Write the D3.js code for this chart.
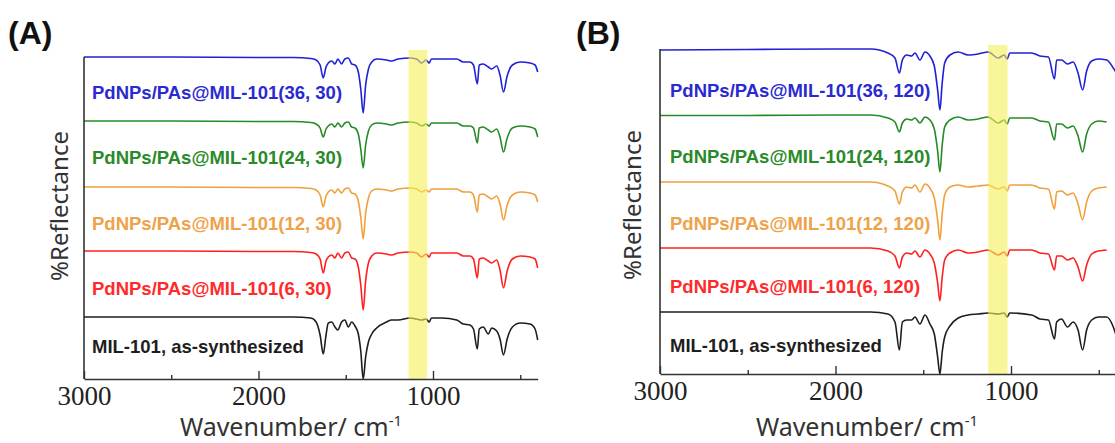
<!DOCTYPE html>
<html>
<head>
<meta charset="utf-8">
<script src="https://cdn.jsdelivr.net/npm/d3@7"></script>
<style>
body { margin: 0; background: #fff; }
</style>
</head>
<body>
<svg id="chart" width="1115" height="443"></svg>
<script>
// wavenumber grid (cm-1) and band depths
var wnA = [3000,2500,2000,1800,1700,1670,1647,1629,1613,1600,1580,1562,1545,1524,1505,1485,1466,1447,1428,1414,1400,1386,1370,1351,1323,1266,1237,1200,1132,1094,1065,1040,1022,1009,950,864,826,788,768,746,735,712,683,664,635,616,596,575,545,500,444,415,400];
var blackA  = [0,0,0,0,1,5,18,37,18,6,5,10,13,5,3,10,5,9,17,34,62,40,25,17,11,5,3,3,1,2,3,2,5,1,1,3,7,8,12,32,12,10,17,11,14,22,38,22,10,6,7,12,23];
var redA    = [0,0,0.5,0.5,1.5,3,8,22,10,6,4,7,2,7,2,1,7,8,16,34,59,30,12,5,2,3,4,2,1,2,6,3,6,2,2,2,5,5,8,27,8,7,10,12,9,19,37,20,8,5,6,8,17];
var orangeA = [0,0,0.5,0.5,1.5,3,8,20,9,5,3,6,2,6,2,1,6,7,14,30,52,26,11,4,2,3,4,2,1,2,5,3,5,2,2,2,5,5,8,25,8,7,10,12,9,17,33,18,8,5,6,8,15];
var greenA  = [0,0,0.5,0.5,1.5,3,7,16,8,5,3,6,2,6,2,1,6,7,13,28,47,24,10,4,2,3,4,2,1,2,5,3,5,2,2,2,5,5,7,22,7,6,9,11,8,16,31,17,7,5,6,8,16];
var blueA   = [0,0,0.5,0.5,1.5,3,8,21,10,6,4,7,2,7,2,1,7,8,15,32,56,28,12,5,2,3,4,2,1,2,6,3,6,2,2,2,5,5,8,27,8,7,10,12,9,18,35,19,8,5,6,8,15];

var wnB = [3000,2500,2000,1800,1701,1661,1636,1619,1594,1566,1547,1519,1490,1462,1437,1418,1405,1392,1378,1348,1301,1244,1187,1130,1073,1039,1022,1007,882,835,787,752,740,712,678,646,618,592,569,540,502,455,417,400];
var blackB  = [0,0,0,0,2,10,38,10,8,8,5,12,3,12,22,45,62,40,25,14,6,3,2,1,2,1,5,1,3,7,8,27,10,7,15,10,18,38,18,8,5,5,15,24];
var redB    = [0,0,0,0,3,8,20,9,5,6,3,9,2,6,15,35,53,29,12,5,2,5,4,2,7,4,8,2,2,5,6,22,8,8,12,10,19,33,17,6,3,2,null,null];
var orangeB = [0,0,0,0,4,9,22,10,5,6,3,10,2,6,16,38,58,32,13,5,3,5,4,3,7,5,9,3,3,6,7,27,10,9,13,11,22,38,20,9,6,5,null,null];
var greenB  = [0.5,0.5,0,0,3,7,17,8,4,5,3,8,2,5,14,36,57,30,12,5,2,5,4,2,8,5,9,3,3,6,7,25,9,9,13,11,21,37,19,9,6,7,null,null];
var blueB   = [1,0.5,0,0,4,9,24,11,6,7,4,11,3,7,17,41,61,34,14,6,3,6,5,3,9,6,10,4,4,7,8,30,11,11,15,13,24,41,22,12,10,11,19,24];

// vertical stacking offsets (bottom to top)
var offsetsA = [0, 66, 130, 196, 260];
var offsetsB = [0, 64, 130, 197, 263];

var labelsA = ["MIL-101, as-synthesized", "PdNPs/PAs@MIL-101(6, 30)", "PdNPs/PAs@MIL-101(12, 30)", "PdNPs/PAs@MIL-101(24, 30)", "PdNPs/PAs@MIL-101(36, 30)"];
var labelsB = ["MIL-101, as-synthesized", "PdNPs/PAs@MIL-101(6, 120)", "PdNPs/PAs@MIL-101(12, 120)", "PdNPs/PAs@MIL-101(24, 120)", "PdNPs/PAs@MIL-101(36, 120)"];

var bandA = [1140, 1033];
var bandB = [1130, 1020];

var majorTicks = [3000, 2000, 1000];
var minorTicks = [2500, 1500, 500];
var xDomain = [3000, 400];

var lineColors  = ["#1e1e1e", "#ff1f1f", "#f0a03c", "#268a26", "#2020d6"];
var labelColors = ["#1e1e1e", "#ff2a2a", "#eea24a", "#2a8a2a", "#2a2ad0"];

var svg = d3.select("#chart");
svg.append("rect").attr("width", 1115).attr("height", 443).attr("fill", "#fff");

drawPanel({
	tag: "(A)", tagX: 8,
	left: 84, right: 537.7, top: 57, bottom: 379,
	wn: wnA, series: [blackA, redA, orangeA, greenA, blueA], offsets: offsetsA,
	labels: labelsA, labelX: 92, labelY: [353, 295, 230, 164, 99],
	band: bandA, bandTop: 50,
	yTitleX: 68, yTitleY: 206, xTitleX: 291
});

drawPanel({
	tag: "(B)", tagX: 576,
	left: 660, right: 1116.3, top: 49, bottom: 374,
	wn: wnB, series: [blackB, redB, orangeB, greenB, blueB], offsets: offsetsB,
	labels: labelsB, labelX: 670, labelY: [352, 293, 230, 163, 97],
	band: bandB, bandTop: 45,
	yTitleX: 641, yTitleY: 205, xTitleX: 867
});

function drawPanel(p) {
	var x = d3.scaleLinear().domain(xDomain).range([p.left, p.right]);
	var y = d3.scaleLinear().domain([-62, p.offsets[4]]).range([p.bottom, p.top]);

	var g = svg.append("g");

	var line = d3.line()
		.defined(function(d) { return d.v != null; })
		.x(function(d) { return x(d.w); })
		.y(function(d) { return y(d.v); })
		.curve(d3.curveMonotoneX);

	p.series.forEach(function(s, i) {
		var pts = p.wn.map(function(w, j) {
			return { w: w, v: s[j] == null ? null : p.offsets[i] - s[j] };
		});
		g.append("path")
		 .datum(pts)
		 .attr("fill", "none")
		 .attr("stroke", lineColors[i])
		 .attr("stroke-width", 1.6)
		 .attr("stroke-linejoin", "round")
		 .attr("d", line);

		g.append("text")
		 .attr("x", p.labelX)
		 .attr("y", p.labelY[i])
		 .attr("font-family", "Liberation Sans, Arial, sans-serif")
		 .attr("font-weight", "bold")
		 .attr("font-size", "18.5px")
		 .attr("fill", labelColors[i])
		 .text(p.labels[i]);
	});

	// highlighted band
	g.append("rect")
	 .attr("x", x(p.band[0]))
	 .attr("y", p.bandTop)
	 .attr("width", x(p.band[1]) - x(p.band[0]))
	 .attr("height", p.bottom - p.bandTop)
	 .attr("fill", "#f5ef55")
	 .attr("opacity", 0.6);

	// axes
	g.append("line")
	 .attr("x1", p.left).attr("x2", p.left)
	 .attr("y1", p.top).attr("y2", p.bottom)
	 .attr("stroke", "#333").attr("stroke-width", 1.6);

	g.append("g")
	 .attr("transform", "translate(0," + p.bottom + ")")
	 .call(d3.axisBottom(x).tickValues(minorTicks).tickSizeInner(-4).tickSizeOuter(0).tickFormat(""))
	 .call(function(a) { a.select(".domain").remove(); })
	 .selectAll("line").attr("stroke", "#333").attr("stroke-width", 1.4);

	var ax = g.append("g")
	 .attr("transform", "translate(0," + p.bottom + ")")
	 .call(d3.axisBottom(x).tickValues(majorTicks).tickSizeInner(-8).tickSizeOuter(0).tickPadding(7).tickFormat(d3.format("d")));
	ax.select(".domain").attr("stroke", "#333").attr("stroke-width", 1.6);
	ax.selectAll(".tick line").attr("stroke", "#333").attr("stroke-width", 1.4);
	ax.selectAll("text")
	  .attr("font-family", "Liberation Serif, Times New Roman, serif")
	  .attr("font-size", "27px")
	  .attr("fill", "#222");

	// titles
	g.append("text")
	 .attr("transform", "translate(" + p.yTitleX + "," + p.yTitleY + ") rotate(-90)")
	 .attr("text-anchor", "middle")
	 .attr("font-family", "Noto Sans, sans-serif")
	 .attr("font-size", "24px")
	 .attr("fill", "#333")
	 .text("%Reflectance");

	var xt = g.append("text")
	 .attr("x", p.xTitleX)
	 .attr("y", 436)
	 .attr("text-anchor", "middle")
	 .attr("font-family", "Noto Sans, sans-serif")
	 .attr("font-size", "25px")
	 .attr("fill", "#333");
	xt.append("tspan").text("Wavenumber/ cm");
	xt.append("tspan").attr("font-size", "15px").attr("dy", -10).text("-1");

	svg.append("text")
	 .attr("x", p.tagX)
	 .attr("y", 44)
	 .attr("font-family", "Liberation Sans, Arial, sans-serif")
	 .attr("font-weight", "bold")
	 .attr("font-size", "32px")
	 .attr("fill", "#111")
	 .text(p.tag);
}
</script>
</body>
</html>
